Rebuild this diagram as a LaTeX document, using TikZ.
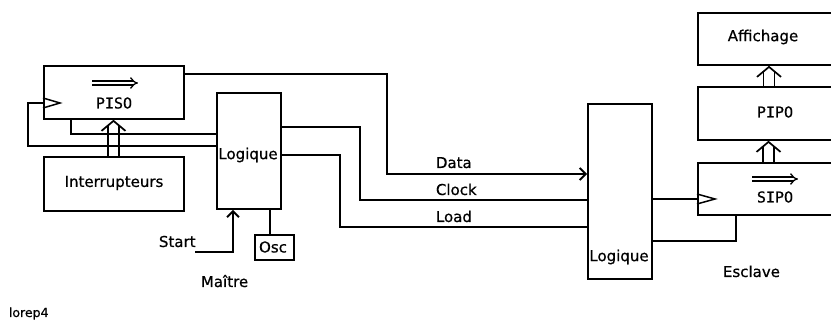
\documentclass[tikz,border=0pt]{standalone}
\usepackage{fontspec}
\setmainfont{DejaVu Sans}[FakeBold=0.6]
\newfontfamily\monofont{DejaVu Sans Mono}[FakeBold=0.6]
\usetikzlibrary{arrows.meta}
\begin{document}
\begin{tikzpicture}[x=1pt,y=-1pt, line width=1.9pt,
  font=\fontsize{15}{18}\selectfont,
  box/.style={draw, rectangle, inner sep=0pt, anchor=north west},
  txt/.style={inner sep=0pt},
  lbl/.style={inner sep=0pt, anchor=base west},
  arr/.style={-{Straight Barb[length=6pt,width=12pt]}},
  shiftsym/.style={double, double distance=2.6pt, line width=1.3pt, -{Implies}},
  busline/.style={line width=1.7pt},
  clk/.style={line width=1.5pt}]
\useasboundingbox (0,0) rectangle (831,320);
% boxes
\node[box, minimum width=140pt, minimum height=53pt] (piso) at (43,65) {};
\node[box, minimum width=140pt, minimum height=54pt] (intr) at (43,156) {};
\node[box, minimum width=64pt, minimum height=116pt] (log1) at (216,92) {};
\node[box, minimum width=39pt, minimum height=25pt] (osc) at (254,234) {};
\node[box, minimum width=64pt, minimum height=175pt] (log2) at (587,103) {};
\node[box, minimum width=143pt, minimum height=52pt] (aff) at (697,12) {};
\node[box, minimum width=143pt, minimum height=53pt] (pipo) at (697,86) {};
\node[box, minimum width=143pt, minimum height=52pt] (sipo) at (697,162) {};
% texts in boxes
\node[txt] (tpiso) at (114,103) {\monofont PISO};
\node[txt] (tintr) at (114,183) {Interrupteurs};
\node[txt] (tlog1) at (248,155) {Logique};
\node[txt] (tosc) at (273,247) {Osc};
\node[txt] (tlog2) at (619,257) {Logique};
\node[txt] (taff) at (763,37) {Affichage};
\node[txt] (tpipo) at (775,112) {\monofont PIPO};
\node[txt] (tsipo) at (775,197) {\monofont SIPO};
% shift symbols
\coordinate (pa) at (92,83); \coordinate (pb) at (138,83);
\draw[shiftsym] (pa) -- (pb);
\coordinate (sa) at (752,179); \coordinate (sb) at (798,179);
\draw[shiftsym] (sa) -- (sb);
% clock triangles
\draw[clk] (piso.west |- 0,98) -- (60,103) -- (piso.west |- 0,108);
\draw[clk] (sipo.west |- 0,194) -- (715,199) -- (sipo.west |- 0,204);
% labels
\node[lbl] (ldata) at (435,168) {Data};
\node[lbl] (lclock) at (435,195) {Clock};
\node[lbl] (lload) at (435,222) {Load};
\node[lbl] (lstart) at (158,247) {Start};
\node[lbl] (lmaitre) at (200,287) {Maître};
\node[lbl] (lescl) at (722,277) {Esclave};
\node[lbl, font=\fontsize{12.5}{15}\selectfont] (lorep) at (8,317) {lorep4};
% connectors
\draw[arr] (piso.north east |- 0,74) -- (387,74) -- (387,174) -- (log2.west |- 0,174);
\draw (piso.south -| 71,0) -- (71,134) -- (log1.west |- 0,134);
\draw (piso.west |- 0,103) -- (28,103) -- (28,146) -- (log1.west |- 0,146);
\draw (log1.east |- 0,127) -- (360,127) -- (360,200) -- (log2.west |- 0,200);
\draw (log1.east |- 0,155) -- (340,155) -- (340,227) -- (log2.west |- 0,227);
\coordinate (st) at (195,252);
\draw[arr] (st) -- (233,252) -- (log1.south -| 233,0);
\draw (log1.south -| 270,0) -- (osc.north -| 270,0);
\draw (log2.east |- 0,199) -- (sipo.west |- 0,199);
\draw (log2.east |- 0,241) -- (736,241) -- (sipo.south -| 736,0);
% buses (double shafts with open chevron head)
\path (intr.north -| 113.5,0) coordinate (b1) (piso.south -| 113.5,0) coordinate (t1);
\path (sipo.north -| 768.5,0) coordinate (b2) (pipo.south -| 768.5,0) coordinate (t2);
\path (pipo.north -| 769,0) coordinate (b3) (aff.south -| 769,0) coordinate (t3);
\foreach \b/\t in {b1/t1, b2/t2, b3/t3}{
  \draw[busline] ([xshift=-5.5pt]\b) -- ([xshift=-5.5pt,yshift=-5pt]\t);
  \draw[busline] ([xshift=5.5pt]\b) -- ([xshift=5.5pt,yshift=-5pt]\t);
  \draw[busline, line join=miter] ([xshift=-12pt,yshift=-11pt]\t) -- ([yshift=-1pt]\t) -- ([xshift=12pt,yshift=-11pt]\t);
}
\end{tikzpicture}
\end{document}
